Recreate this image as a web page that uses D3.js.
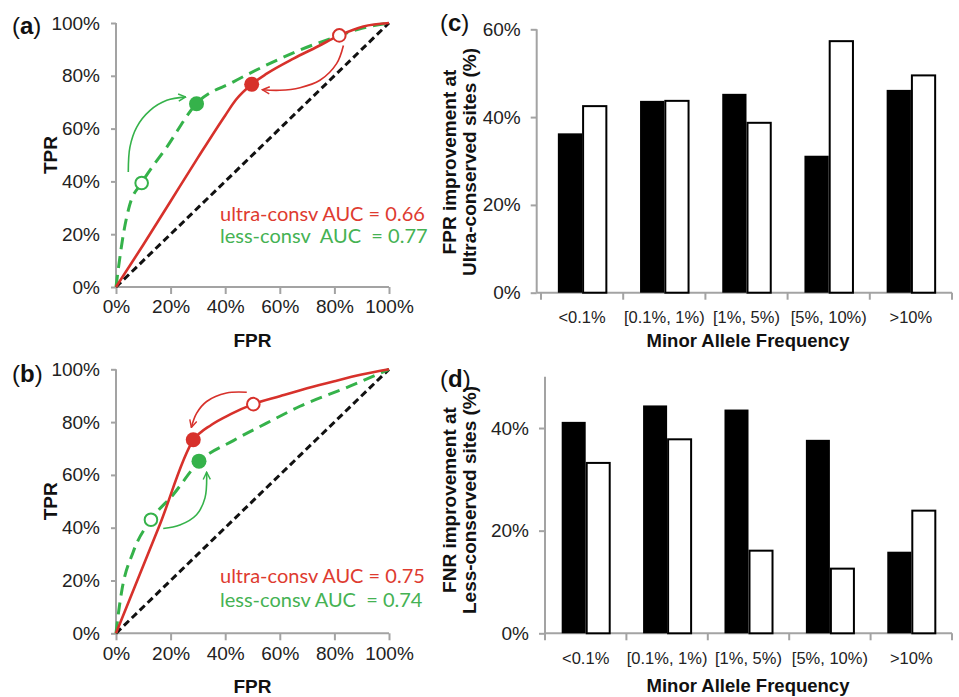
<!DOCTYPE html>
<html><head><meta charset="utf-8">
<script src="https://cdn.jsdelivr.net/npm/d3@7"></script>
<style>
body{margin:0;background:#fff;}
svg{display:block;font-family:"Liberation Sans",Arial,sans-serif;}
</style></head><body>
<svg id="c" width="959" height="697"></svg>
<script>
// ---------- DATA ----------
const rocTicks = [0, 20, 40, 60, 80, 100];
// Panel (a)
const aRedX   = [0, 10, 20, 30, 40, 44, 49.7, 55.2, 65, 73.5, 81.8, 90.6, 100];
const aRedY   = [0, 16, 32.5, 49, 65, 71, 76.8, 80.8, 86.5, 90.9, 95.3, 98.7, 100];
const aGreenX = [0, 1, 2.7, 5, 9.4, 18.6, 29.5, 43, 55, 67, 82, 90, 100];
const aGreenY = [0, 8, 20, 31, 39.4, 53, 69.5, 77.7, 84, 89.6, 95.3, 98, 100];
const aRedPts   = [[49.7, 76.8, "filled"], [81.8, 95.3, "open"]];
const aGreenPts = [[29.5, 69.4, "filled"], [9.4, 39.4, "open"]];
const aRedArrow   = [[83.3, 91.5], [80.8, 84.6], [74.7, 78.3], [67.4, 75.5], [60, 74.5], [53.6, 74.7]];
const aGreenArrow = [[4.5, 43.6], [5.1, 53], [7.6, 60.6], [12.5, 66.9], [18.6, 70.7], [25.5, 72]];
const aLegend = ["ultra-consv AUC = 0.66", "less-consv  AUC  = 0.77"];
// Panel (b)
const bRedX   = [0, 16, 28.3, 35, 42, 50.3, 60, 70, 80, 90, 100];
const bRedY   = [0, 41, 73.1, 79, 83, 86.8, 89.8, 92.8, 95.5, 98, 100];
const bGreenX = [0, 0.9, 2, 6.3, 12.8, 21, 30.4, 43, 55, 67.4, 85.7, 100];
const bGreenY = [0, 7.7, 15.4, 30.8, 43, 52.6, 65, 73, 79.5, 86, 93.6, 100];
const bRedPts   = [[28.3, 73.3, "filled"], [50.3, 86.8, "open"]];
const bGreenPts = [[30.4, 65.2, "filled"], [12.8, 43, "open"]];
const bRedArrow   = [[47.9, 91.3], [40.5, 91], [33.2, 87.8], [29.5, 83.3], [27.6, 78]];
const bGreenArrow = [[17.3, 39.7], [23.4, 41], [29.5, 44.9], [32.6, 51.3], [33.2, 61]];
const bLegend = ["ultra-consv AUC = 0.75", "less-consv AUC  = 0.74"];
// Bar panels
const mafCats = ["<0.1%", "[0.1%, 1%)", "[1%, 5%)", "[5%, 10%)", ">10%"];
const cBlack = [36.3, 43.7, 45.3, 31.2, 46.2];
const cWhite = [42.5, 43.7, 38.7, 57.3, 49.5];
const cTicks = [0, 20, 40, 60];
const dBlack = [41.2, 44.4, 43.6, 37.7, 15.9];
const dWhite = [33.2, 37.8, 16.1, 12.6, 23.9];
const dTicks = [0, 20, 40];

// ---------- DRAW ----------
const svg = d3.select("#c");
const RED = "#d7312b", GREEN = "#35b24a", AXIS = "#a3a3a3";
const RED_T = "#de3b30", GREEN_T = "#45b253";
const pct = d => d + "%";

const defs = svg.append("defs");
function arrowMarker(id, col){
  defs.append("marker").attr("id", id).attr("viewBox", "0 0 10 10")
    .attr("refX", 9).attr("refY", 5).attr("markerWidth", 9).attr("markerHeight", 9)
    .attr("markerUnits", "userSpaceOnUse").attr("orient", "auto")
    .append("path").attr("d", "M1,1 L9,5 L1,9").attr("fill", "none")
    .attr("stroke", col).attr("stroke-width", 1.6);
}
arrowMarker("arR", RED); arrowMarker("arG", GREEN);

function panelLabel(x, y, letter){
  const t = svg.append("text").attr("x", x).attr("y", y).attr("font-size", 24).attr("fill", "#111");
  t.append("tspan").text("(");
  t.append("tspan").attr("font-weight", "bold").text(letter);
  t.append("tspan").text(")");
}

function roc(cfg){
  const x = d3.scaleLinear().domain([0, 100]).range([116, 389]);
  const y = d3.scaleLinear().domain([0, 100]).range([cfg.y0, cfg.y0 - 264]);
  const g = svg.append("g");
  const xa = g.append("g").attr("transform", `translate(0,${y(0)})`)
    .call(d3.axisBottom(x).tickValues(rocTicks).tickFormat(pct).tickSize(7).tickPadding(6));
  const ya = g.append("g").attr("transform", `translate(${x(0)},0)`)
    .call(d3.axisLeft(y).tickValues(rocTicks).tickFormat(pct).tickSize(5).tickPadding(11));
  [xa, ya].forEach(a => {
    a.select(".domain").attr("stroke", AXIS).attr("stroke-width", 2);
    a.selectAll(".tick line").attr("stroke", AXIS).attr("stroke-width", 2);
    a.selectAll(".tick text").attr("font-size", 19).attr("fill", "#222")
      .attr("font-family", "Liberation Sans, Arial, sans-serif");
  });
  xa.select(".domain").attr("d", `M${x(0)},0H${x(100)}`);
  ya.select(".domain").attr("d", `M0,${y(0)}V${y(100)}`);
  xa.selectAll(".tick text").attr("dy", "0.71em");
  const line = d3.line().x(d => x(d[0])).y(d => y(d[1]));
  g.append("path").attr("d", line([[0, 0], [100, 100]])).attr("fill", "none")
    .attr("stroke", "#111").attr("stroke-width", 3).attr("stroke-dasharray", "7,4");
  const cl = d3.line().x(d => x(d[0])).y(d => y(d[1])).curve(d3.curveMonotoneX);
  g.append("path").attr("d", cl(cfg.gx.map((v, i) => [v, cfg.gy[i]]))).attr("fill", "none")
    .attr("stroke", GREEN).attr("stroke-width", 3).attr("stroke-dasharray", "12,7");
  g.append("path").attr("d", cl(cfg.rx.map((v, i) => [v, cfg.ry[i]]))).attr("fill", "none")
    .attr("stroke", RED).attr("stroke-width", 2.6);
  const al = d3.line().x(d => x(d[0])).y(d => y(d[1])).curve(d3.curveCatmullRom);
  g.append("path").attr("d", al(cfg.rArrow)).attr("fill", "none").attr("stroke", RED)
    .attr("stroke-width", 1.6).attr("marker-end", "url(#arR)");
  g.append("path").attr("d", al(cfg.gArrow)).attr("fill", "none").attr("stroke", GREEN)
    .attr("stroke-width", 1.6).attr("marker-end", "url(#arG)");
  const pts = cfg.rPts.map(p => [...p, RED]).concat(cfg.gPts.map(p => [...p, GREEN]));
  g.selectAll("circle.m").data(pts).enter().append("circle")
    .attr("cx", d => x(d[0])).attr("cy", d => y(d[1]))
    .attr("r", d => d[2] === "filled" ? 7.5 : 6.3)
    .attr("fill", d => d[2] === "filled" ? d[3] : "#fff")
    .attr("stroke", d => d[3]).attr("stroke-width", d => d[2] === "filled" ? 0 : 2);
  g.append("text").attr("x", 220).attr("y", cfg.leg[0]).attr("fill", RED_T)
    .attr("font-family", "Lato, sans-serif").attr("font-size", 20).style("white-space", "pre").text(cfg.legend[0]);
  g.append("text").attr("x", 220).attr("y", cfg.leg[1]).attr("fill", GREEN_T)
    .attr("font-family", "Lato, sans-serif").attr("font-size", 20).style("white-space", "pre").text(cfg.legend[1]);
  g.append("text").attr("x", 252.5).attr("y", y(0) + 60).attr("text-anchor", "middle")
    .attr("font-weight", "bold").attr("font-size", 19).attr("fill", "#111").text("FPR");
  g.append("text").attr("transform", `translate(57,${(y(0) + y(100)) / 2}) rotate(-90)`)
    .attr("text-anchor", "middle").attr("font-weight", "bold").attr("font-size", 19)
    .attr("fill", "#111").text("TPR");
}

roc({y0: 287, rx: aRedX, ry: aRedY, gx: aGreenX, gy: aGreenY, rPts: aRedPts, gPts: aGreenPts,
     rArrow: aRedArrow, gArrow: aGreenArrow, legend: aLegend, leg: [221, 243]});
roc({y0: 633.3, rx: bRedX, ry: bRedY, gx: bGreenX, gy: bGreenY, rPts: bRedPts, gPts: bGreenPts,
     rArrow: bRedArrow, gArrow: bGreenArrow, legend: bLegend, leg: [583, 607]});
panelLabel(12, 34, "a");
panelLabel(12, 382, "b");

function bars(cfg){
  const x0 = d3.scaleBand().domain(mafCats).range([cfg.bx0, 952]).paddingInner(0.41).paddingOuter(0.205);
  const x1 = d3.scaleBand().domain(["black", "white"]).range([0, x0.bandwidth()]);
  const y = d3.scaleLinear().domain([0, cfg.ymax]).range([cfg.yb, cfg.yt]);
  const g = svg.append("g");
  const ya = g.append("g").attr("transform", `translate(${cfg.ax},0)`)
    .call(d3.axisLeft(y).tickValues(cfg.ticks).tickFormat(pct).tickSize(6).tickPadding(10));
  ya.select(".domain").attr("d", `M0,${y(0)}V${cfg.yt}`).attr("stroke", AXIS).attr("stroke-width", 2);
  ya.selectAll(".tick line").attr("stroke", AXIS).attr("stroke-width", 2);
  ya.selectAll(".tick text").attr("font-size", 19).attr("fill", "#222");
  const step = x0.step();
  const bounds = d3.range(6).map(i => cfg.bx0 + i * step);
  g.append("line").attr("x1", cfg.ax).attr("x2", 952).attr("y1", y(0)).attr("y2", y(0))
    .attr("stroke", AXIS).attr("stroke-width", 2);
  g.selectAll("line.bt").data(bounds).enter().append("line")
    .attr("x1", d => d).attr("x2", d => d).attr("y1", y(0)).attr("y2", y(0) + 7)
    .attr("stroke", AXIS).attr("stroke-width", 2);
  const rows = mafCats.map((c, i) => ({c, black: cfg.black[i], white: cfg.white[i]}));
  const grp = g.selectAll("g.grp").data(rows).enter().append("g")
    .attr("transform", d => `translate(${x0(d.c)},0)`);
  grp.append("rect").attr("x", x1("black")).attr("width", x1.bandwidth())
    .attr("y", d => y(d.black)).attr("height", d => y(0) - y(d.black)).attr("fill", "#000");
  grp.append("rect").attr("x", x1("white") + 1).attr("width", x1.bandwidth() - 1)
    .attr("y", d => y(d.white)).attr("height", d => y(0) - y(d.white))
    .attr("fill", "#fff").attr("stroke", "#000").attr("stroke-width", 2);
  g.selectAll("text.cat").data(mafCats).enter().append("text")
    .attr("x", d => x0(d) + x0.bandwidth() / 2).attr("y", cfg.catY).attr("text-anchor", "middle")
    .attr("font-size", 16.5).attr("fill", "#222").text(d => d);
  g.append("text").attr("x", 748).attr("y", cfg.titleY).attr("text-anchor", "middle")
    .attr("font-weight", "bold").attr("font-size", 18.5).attr("fill", "#111").text("Minor Allele Frequency");
  const yt = g.append("text").attr("transform", `translate(456,${cfg.ylabC}) rotate(-90)`)
    .attr("text-anchor", "middle").attr("font-weight", "bold").attr("font-size", 19).attr("fill", "#111");
  yt.append("tspan").attr("x", 0).attr("y", 0).text(cfg.ylab[0]);
  yt.append("tspan").attr("x", 0).attr("y", 20).text(cfg.ylab[1]);
}

bars({bx0: 541, ax: 536.7, ymax: 60, yb: 292.7, yt: 29.3, ticks: cTicks, black: cBlack, white: cWhite,
      catY: 323, titleY: 347, ylabC: 162, ylab: ["FPR improvement at", "Ultra-conserved sites (%)"]});
bars({bx0: 545, ax: 545, ymax: 50, yb: 633.3, yt: 376.7, ticks: dTicks, black: dBlack, white: dWhite,
      catY: 664, titleY: 692, ylabC: 500, ylab: ["FNR improvement at", "Less-conserved sites (%)"]});
panelLabel(440, 31, "c");
panelLabel(440, 387, "d");
</script></body></html>
